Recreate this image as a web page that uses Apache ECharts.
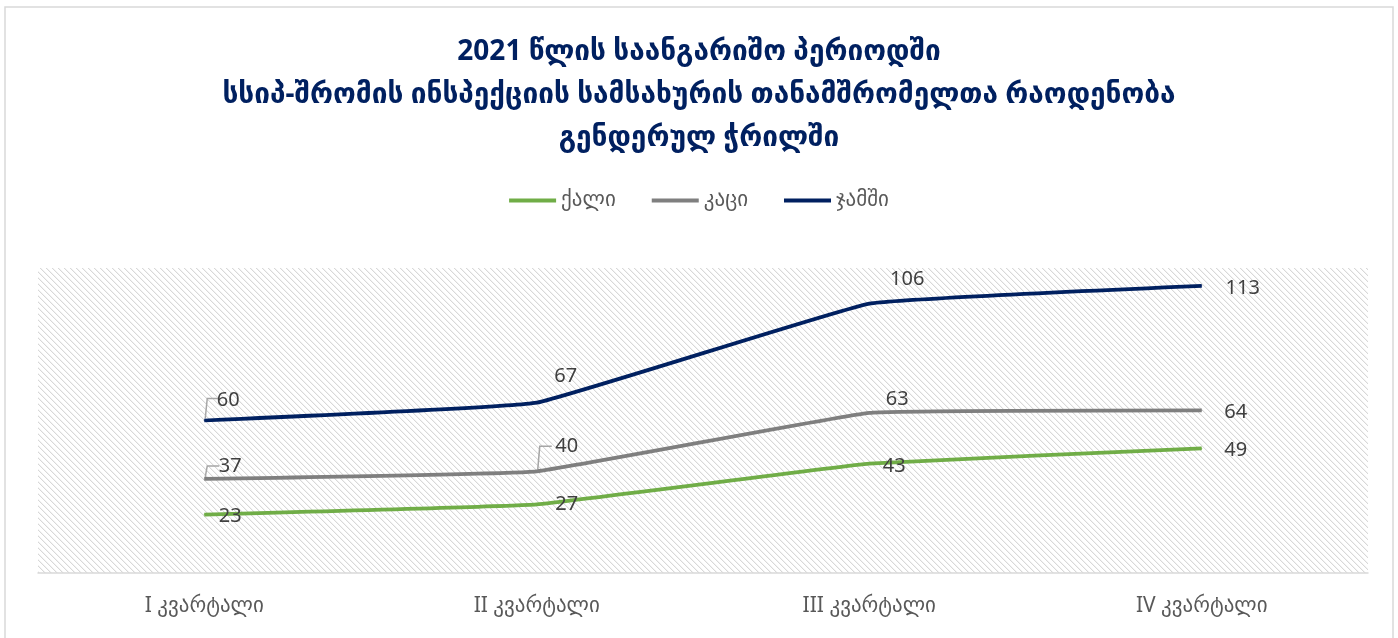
<!DOCTYPE html>
<html>
<head>
<meta charset="utf-8">
<script src="https://cdn.jsdelivr.net/npm/echarts@6/dist/echarts.min.js"></script>
<style>
html,body{margin:0;padding:0;background:#fff;}
#chart{width:1398px;height:638px;}
</style>
</head>
<body>
<div id="chart"></div>
<script>
const categories = ['I კვარტალი', 'II კვარტალი', 'III კვარტალი', 'IV კვარტალი'];
const women = [23, 27, 43, 49];
const men = [37, 40, 63, 64];
const total = [60, 67, 106, 113];
const seriesNames = ['ქალი', 'კაცი', 'ჯამში'];
const titleLines = ['2021 წლის საანგარიშო პერიოდში', 'სსიპ-შრომის ინსპექციის სამსახურის თანამშრომელთა რაოდენობა', 'გენდერულ ჭრილში'];

// label offsets (layout only)
const womenOffsets = [[26, 2], [30, 0], [25, 3], [34, 2]];
const menOffsets = [[26, -13], [30, -25], [28, -14], [34, 2]];
const totalOffsets = [[24, -20], [29, -26], [38, -24], [41, 3]];
// leader lines: [categoryIndex, series value, rise px]
const leaderPoints = [[0, total[0], 22], [0, men[0], 13], [1, men[1], 25]];

const FONT = '"Noto Sans", "DejaVu Sans", sans-serif';

const T = 6;
const pc = document.createElement('canvas');
pc.width = T; pc.height = T;
const g = pc.getContext('2d');
g.fillStyle = '#ffffff'; g.fillRect(0, 0, T, T);
for (let i = 0; i < T; i++) {
  g.fillStyle = '#d8d8d8'; g.fillRect(i, i, 1, 1);
  g.fillStyle = '#f3f3f3'; g.fillRect((i + 1) % T, i, 1, 1);
}

function build(values, offsets) {
  return values.map((v, i) => ({ value: v, label: { offset: offsets[i] } }));
}

function mkSeries(name, color, values, offsets) {
  return {
    name: name,
    type: 'line',
    smooth: 0.08,
    symbol: 'circle',
    symbolSize: 1,
    lineStyle: { color: color, width: 3.75 },
    itemStyle: { color: color },
    label: {
      show: true,
      position: 'inside',
      fontFamily: FONT,
      fontSize: 20,
      color: '#404040'
    },
    data: build(values, offsets),
    z: 3
  };
}

const chart = echarts.init(document.getElementById('chart'));
chart.setOption({
  animation: false,
  backgroundColor: '#ffffff',
  title: {
    text: titleLines.join('\n'),
    left: 'center',
    top: 26,
    textStyle: { fontFamily: FONT, fontSize: 28, fontWeight: 'bold', color: '#002060', lineHeight: 43 }
  },
  legend: {
    top: 185,
    left: 'center',
    itemWidth: 47,
    itemHeight: 4,
    itemGap: 36,
    icon: 'rect',
    textStyle: { fontFamily: FONT, fontSize: 21, color: '#595959', padding: [0, 0, 0, 0] },
    data: seriesNames
  },
  grid: {
    left: 38, right: 30, top: 268, bottom: 65,
    show: true,
    borderWidth: 0,
    backgroundColor: { image: pc, repeat: 'repeat' }
  },
  xAxis: {
    type: 'category',
    data: categories,
    boundaryGap: true,
    axisLine: { show: true, lineStyle: { color: '#d9d9d9', width: 1.5 } },
    axisTick: { show: false },
    axisLabel: { fontFamily: FONT, fontSize: 21, color: '#595959', margin: 23 }
  },
  yAxis: {
    type: 'value',
    min: 0, max: 120, interval: 20,
    show: false,
    splitLine: { show: false }
  },
  graphic: [{
    type: 'rect',
    shape: { x: 5, y: 7, width: 1388, height: 640 },
    style: { fill: 'none', stroke: '#d9d9d9', lineWidth: 1.5 },
    silent: true,
    z: -1
  }],
  series: [
    mkSeries(seriesNames[0], '#70ad47', women, womenOffsets),
    mkSeries(seriesNames[1], '#7f7f7f', men, menOffsets),
    mkSeries(seriesNames[2], '#002060', total, totalOffsets),
    {
      type: 'custom',
      silent: true,
      z: 2,
      data: leaderPoints,
      encode: { x: 0, y: 1 },
      renderItem: function (params, api) {
        const p = api.coord([api.value(0), api.value(1)]);
        const rise = api.value(2);
        return {
          type: 'polyline',
          shape: { points: [[p[0] + 1, p[1] - 2], [p[0] + 3, p[1] - rise], [p[0] + 15, p[1] - rise]] },
          style: { stroke: '#a6a6a6', lineWidth: 1.5, fill: 'none' }
        };
      }
    }
  ]
});
</script>
</body>
</html>
